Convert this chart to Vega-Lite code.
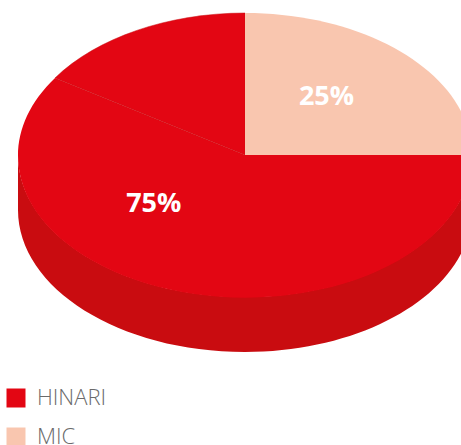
{"$schema":"https://vega.github.io/schema/vega-lite/v6.json","width":461,"height":445,"padding":0,"autosize":{"type":"none"},"background":"white","view":{"stroke":null},"data":{"values":[{"series":"HINARI","share":75,"px":-0.402,"py":-0.345,"label":"75%"},{"series":"MIC","share":25,"px":0.359,"py":0.408,"label":"25%"}]},"layer":[{"transform":[{"filter":"datum.series==='HINARI'"}],"mark":{"type":"point","filled":true,"opacity":1,"size":4,"color":"#c90c10","strokeWidth":0,"clip":false,"shape":"M-227,0 L-227,55 A227,142 0 0 0 227,55 L227,0 A227,142 0 0 1 -227,0 Z"},"encoding":{"x":{"datum":0,"type":"quantitative","scale":{"domain":[-1.0793,0.9515],"range":[0,461],"nice":false,"zero":false},"axis":null},"y":{"datum":0,"type":"quantitative","scale":{"domain":[-2.0423,1.0915],"range":[445,0],"nice":false,"zero":false},"axis":null}}},{"transform":[{"filter":"datum.series==='HINARI'"}],"mark":{"type":"point","filled":true,"opacity":1,"size":4,"strokeWidth":0,"clip":false,"shape":"M0,0 L227,0 A227,142 0 1 1 -190,-77 Z"},"encoding":{"x":{"datum":0,"type":"quantitative"},"y":{"datum":0,"type":"quantitative"},"color":{"field":"series","type":"nominal","scale":{"domain":["HINARI","MIC"],"range":["#e30613","#f9c6af"]},"legend":{"orient":"none","legendX":5,"legendY":387,"title":null,"symbolType":"square","symbolSize":361,"symbolStrokeWidth":0,"symbolOpacity":1,"labelFont":"Open Sans","labelFontSize":22,"labelFontWeight":300,"labelColor":"#6a6a6a","labelOffset":10,"rowPadding":17,"padding":0}}}},{"transform":[{"filter":"datum.series==='HINARI'"}],"mark":{"type":"point","filled":true,"opacity":1,"size":4,"color":"#e30613","stroke":"#c90c10","strokeWidth":0.5,"clip":false,"shape":"M0,0 L-190,-77 A227,142 0 0 1 0,-142 Z"},"encoding":{"x":{"datum":0,"type":"quantitative"},"y":{"datum":0,"type":"quantitative"}}},{"transform":[{"filter":"datum.series==='MIC'"}],"mark":{"type":"point","filled":true,"opacity":1,"size":4,"strokeWidth":0,"clip":false,"shape":"M0,0 L0,-142 A227,142 0 0 1 227,0 Z"},"encoding":{"x":{"datum":0,"type":"quantitative"},"y":{"datum":0,"type":"quantitative"},"color":{"field":"series","type":"nominal"}}},{"mark":{"type":"text","color":"white","font":"Open Sans","fontSize":27,"fontWeight":700,"clip":false},"encoding":{"x":{"field":"px","type":"quantitative"},"y":{"field":"py","type":"quantitative"},"text":{"field":"label"}}}]}
